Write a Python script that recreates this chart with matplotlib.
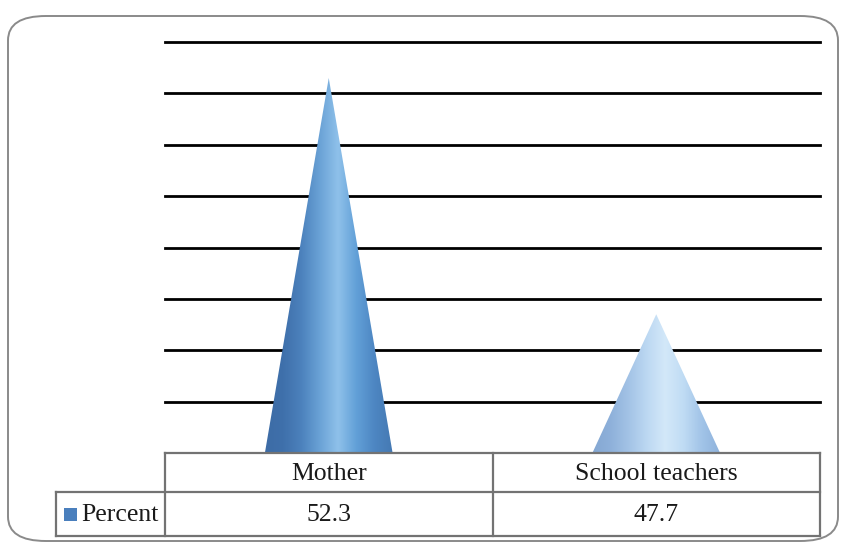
import numpy as np
import matplotlib
matplotlib.use("Agg")
import matplotlib.pyplot as plt
from matplotlib.patches import Polygon, FancyBboxPatch, Rectangle
from matplotlib.colors import LinearSegmentedColormap
from matplotlib.transforms import blended_transform_factory

categories = ["Mother", "School teachers"]
values = [52.3, 47.7]
series_name = "Percent"
y_min, y_max = 45, 53
grid_ticks = [46, 47, 48, 49, 50, 51, 52, 53]

cone_colors = [
    ["#3d6ca6", "#3f70ab", "#4c82bd", "#6aa2d6", "#8fc1ea", "#62a0d8", "#4d86c2", "#4579b3"],
    ["#84a7d2", "#8eb0da", "#a3c3e6", "#bcd8f2", "#d3e8f9", "#c0dcf4", "#a2c4e8", "#8fb3dc"],
]

W, H = 842, 542
fig = plt.figure(figsize=(W / 100, H / 100), dpi=100)


def fx(x):
    return x / W


def fy(y):
    return 1 - y / H


# rounded outer frame
frame = FancyBboxPatch((fx(8), fy(541)), fx(830), (541 - 16) / H,
                       boxstyle="round,pad=0,rounding_size=0.045",
                       transform=fig.transFigure, facecolor="none",
                       edgecolor="#8a8a8a", linewidth=1.4, zorder=-1)
fig.patches.append(frame)

ax = fig.add_axes([fx(165), fy(453), (820 - 165) / W, (453 - 42) / H])
ax.set_xlim(0, len(categories))
ax.set_ylim(y_min, y_max)
ax.patch.set_alpha(0)
for s in ax.spines.values():
    s.set_visible(False)
ax.set_xticks([])
ax.set_yticks([])

for t in grid_ticks:
    ax.axhline(t, color="black", lw=2.0, zorder=1, clip_on=False)

cone_w = 0.39
for i, v in enumerate(values):
    xc = i + 0.5
    tri = Polygon([(xc - cone_w / 2, y_min), (xc, v), (xc + cone_w / 2, y_min)],
                  closed=True, facecolor="none", edgecolor="none")
    ax.add_patch(tri)
    cmap = LinearSegmentedColormap.from_list("c%d" % i, cone_colors[i])
    grad = np.linspace(0, 1, 256).reshape(1, -1)
    im = ax.imshow(grad, cmap=cmap, aspect="auto",
                   extent=[xc - cone_w / 2, xc + cone_w / 2, y_min, v],
                   zorder=3, interpolation="bicubic")
    im.set_clip_path(tri)
ax.set_xlim(0, len(categories))
ax.set_ylim(y_min, y_max)

# data table below
tc = "#737373"
lw = 1.6
top, mid, bot = 453, 492, 536
left_lab, left_tab, right = 56, 165, 820
ln = fig.add_artist
ln(plt.Line2D([fx(left_tab), fx(right)], [fy(top), fy(top)], color=tc, lw=lw))
ln(plt.Line2D([fx(left_lab), fx(right)], [fy(mid), fy(mid)], color=tc, lw=lw))
ln(plt.Line2D([fx(left_lab), fx(right)], [fy(bot), fy(bot)], color=tc, lw=lw))
ln(plt.Line2D([fx(left_lab), fx(left_lab)], [fy(mid), fy(bot)], color=tc, lw=lw))
tr = blended_transform_factory(ax.transData, fig.transFigure)
for k in range(len(categories) + 1):
    ln(plt.Line2D([k, k], [fy(top), fy(bot)], color=tc, lw=lw, transform=tr))

font = dict(family="Liberation Serif", fontsize=18.5, color="#1a1a1a")
for i, (c, v) in enumerate(zip(categories, values)):
    fig.text(i + 0.5, fy((top + mid) / 2 + 1), c, transform=tr,
             ha="center", va="center", **font)
    fig.text(i + 0.5, fy((mid + bot) / 2 + 1), f"{v:.1f}", transform=tr,
             ha="center", va="center", **font)

fig.patches.append(Rectangle((fx(64), fy(521)), 13 / W, 13 / H,
                             transform=fig.transFigure, facecolor="#4a7fbd",
                             edgecolor="none"))
fig.text(fx(81), fy((mid + bot) / 2 + 1), series_name, ha="left", va="center", **font)

fig.savefig("out.png", dpi=100)
